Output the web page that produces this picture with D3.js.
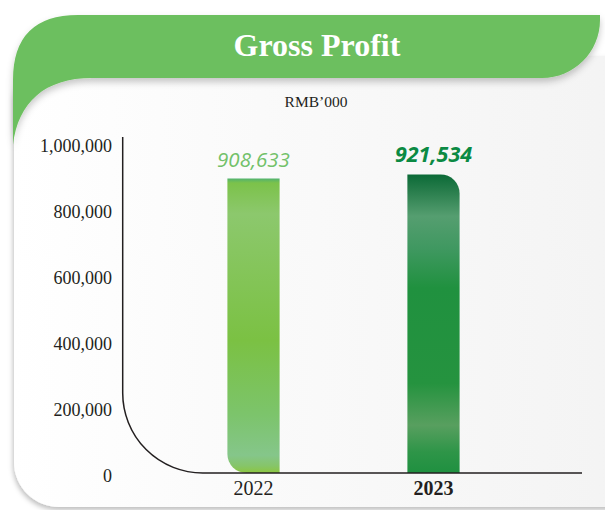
<!DOCTYPE html>
<html>
<head>
<meta charset="utf-8">
<script src="https://cdn.jsdelivr.net/npm/d3@7"></script>
<style>
    body { margin: 0; background: #ffffff; }
</style>
</head>
<body>
<script>
// chart data
const years = ["2022", "2023"];
const grossProfit = [908633, 921534];
const yTicks = [0, 200000, 400000, 600000, 800000, 1000000];
const chartTitle = "Gross Profit";
const unitLabel = "RMB\u2019000";

const width = 605;
const height = 510;

// plot frame
const baseY = 473;      // x axis line
const topY = 149;       // value 1,000,000 for the bars
const axisX = 122.7;    // vertical axis line

const svg = d3.select("body").append("svg")
    .attr("width", width)
    .attr("height", height);

const defs = svg.append("defs");

// soft shadows for the card and the header
const cardShadow = defs.append("filter").attr("id", "card-shadow")
    .attr("x", "-10%").attr("y", "-10%").attr("width", "120%").attr("height", "120%");
cardShadow.append("feDropShadow")
    .attr("dx", -1).attr("dy", 3).attr("stdDeviation", 2.5)
    .attr("flood-color", "#000").attr("flood-opacity", 0.25);

const headShadow = defs.append("filter").attr("id", "head-shadow")
    .attr("x", "-10%").attr("y", "-10%").attr("width", "120%").attr("height", "140%");
headShadow.append("feDropShadow")
    .attr("dx", 0).attr("dy", 4).attr("stdDeviation", 3.5)
    .attr("flood-color", "#000").attr("flood-opacity", 0.22);

// helper to make a vertical gradient
function addGradient(id, stops, horizontal) {
    const g = defs.append("linearGradient").attr("id", id)
        .attr("x1", 0).attr("y1", 0)
        .attr("x2", horizontal ? 1 : 0).attr("y2", horizontal ? 0 : 1);
    g.selectAll("stop").data(stops).enter().append("stop")
        .attr("offset", d => d[0])
        .attr("stop-color", d => d[1]);
}

addGradient("card-fill", [[0, "#ffffff"], [0.3, "#fbfbfb"], [1, "#f3f3f3"]], true);
addGradient("bar-2022", [
    [0, "#52b36e"], [0.015, "#7cc24a"], [0.12, "#8cc86d"], [0.3, "#85c55b"],
    [0.55, "#7bc143"], [0.8, "#7cc46b"], [0.94, "#85c68a"], [0.975, "#86c56a"], [1, "#8cc63f"]
]);
addGradient("bar-2023", [
    [0, "#0b6a37"], [0.06, "#2b7f4e"], [0.14, "#559e70"], [0.25, "#3f9860"],
    [0.38, "#20913f"], [0.7, "#25933f"], [0.84, "#589f5f"], [0.93, "#2e9548"], [1, "#1f9040"]
]);

// background card
svg.append("rect")
    .attr("x", 14).attr("y", 56)
    .attr("width", 640).attr("height", 451)
    .attr("rx", 45).attr("ry", 45)
    .attr("fill", "url(#card-fill)")
    .attr("filter", "url(#card-shadow)");

// green header banner
const head = d3.path();
head.moveTo(13, 145);
head.lineTo(13, 80);
head.quadraticCurveTo(13, 15, 78, 15);
head.lineTo(600, 15);
head.lineTo(600, 20);
head.bezierCurveTo(600, 52, 574, 78, 542, 78);
head.lineTo(92, 78);
head.bezierCurveTo(45, 78, 18, 102, 13, 145);
head.closePath();

svg.append("path")
    .attr("d", head.toString())
    .attr("fill", "#6cbf5e")
    .attr("filter", "url(#head-shadow)");

svg.append("text")
    .attr("x", 317).attr("y", 56)
    .attr("text-anchor", "middle")
    .attr("font-family", "'Liberation Serif', 'Times New Roman', serif")
    .attr("font-weight", "bold")
    .attr("font-size", 32)
    .attr("fill", "#ffffff")
    .text(chartTitle);

svg.append("text")
    .attr("x", 316).attr("y", 107)
    .attr("text-anchor", "middle")
    .attr("font-family", "'Liberation Serif', 'Times New Roman', serif")
    .attr("font-size", 15.5)
    .attr("fill", "#231f20")
    .text(unitLabel);

// scales
const x = d3.scaleBand()
    .domain(years)
    .range([163.5, 523.5])
    .paddingInner(0.71)
    .paddingOuter(0.355);

const y = d3.scaleLinear()
    .domain([0, 1000000])
    .range([baseY, topY]);

// the tick labels sit on a slightly wider spacing than the bars
const yLabel = d3.scaleLinear()
    .domain([0, 1000000])
    .range([475.5, 146]);

// bar with one rounded corner
function barPath(x0, y0, w, h, r, corner) {
    const p = d3.path();
    if (corner === "bottom-left") {
        p.moveTo(x0, y0);
        p.lineTo(x0 + w, y0);
        p.lineTo(x0 + w, y0 + h);
        p.lineTo(x0 + r, y0 + h);
        p.arcTo(x0, y0 + h, x0, y0 + h - r, r);
    } else {
        p.moveTo(x0, y0 + h);
        p.lineTo(x0, y0);
        p.lineTo(x0 + w - r, y0);
        p.arcTo(x0 + w, y0, x0 + w, y0 + r, r);
        p.lineTo(x0 + w, y0 + h);
    }
    p.closePath();
    return p.toString();
}

const bars = years.map((yr, i) => ({ year: yr, value: grossProfit[i] }));

svg.append("g").selectAll("path")
    .data(bars)
    .enter()
    .append("path")
    .attr("d", (d, i) => barPath(
        x(d.year), y(d.value), x.bandwidth(), baseY - y(d.value), 19,
        i === 0 ? "bottom-left" : "top-right"))
    .attr("fill", d => "url(#bar-" + d.year + ")");

// value labels above the bars
svg.append("g").selectAll("text")
    .data(bars)
    .enter()
    .append("text")
    .attr("x", d => x(d.year) + x.bandwidth() / 2)
    .attr("y", d => y(d.value) - 12)
    .attr("text-anchor", "middle")
    .attr("font-family", "'Open Sans', sans-serif")
    .attr("font-style", "italic")
    .attr("font-weight", (d, i) => i === 1 ? "bold" : "normal")
    .attr("font-size", (d, i) => i === 1 ? 21.5 : 20.5)
    .attr("fill", (d, i) => i === 1 ? "#0b8a43" : "#72c169")
    .text(d => d3.format(",")(d.value));

// curved axis line
const axisLine = d3.path();
axisLine.moveTo(axisX, 137);
axisLine.arcTo(axisX, baseY, axisX + 80, baseY, 80);
axisLine.lineTo(582, baseY);

svg.append("path")
    .attr("d", axisLine.toString())
    .attr("fill", "none")
    .attr("stroke", "#231f20")
    .attr("stroke-width", 1.5);

// y tick labels
const yAxis = svg.append("g")
    .attr("transform", "translate(112,0)")
    .call(d3.axisLeft(yLabel)
        .tickValues(yTicks)
        .tickFormat(d3.format(","))
        .tickSize(0)
        .tickPadding(0));
yAxis.select(".domain").remove();
yAxis.selectAll("text")
    .attr("font-family", "'Liberation Serif', 'Times New Roman', serif")
    .attr("font-size", 18)
    .attr("fill", "#231f20");

// x tick labels
const xAxis = svg.append("g")
    .attr("transform", `translate(0, ${baseY})`)
    .call(d3.axisBottom(x).tickSize(0).tickPadding(8));
xAxis.select(".domain").remove();
xAxis.selectAll("text")
    .attr("font-family", "'Liberation Serif', 'Times New Roman', serif")
    .attr("font-size", 20)
    .attr("font-weight", (d, i) => i === 1 ? "bold" : "normal")
    .attr("fill", "#231f20");
</script>
</body>
</html>
